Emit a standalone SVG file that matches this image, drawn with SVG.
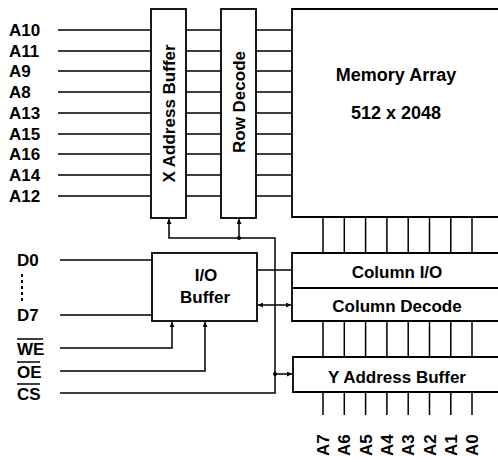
<svg xmlns="http://www.w3.org/2000/svg" width="498" height="462" viewBox="0 0 498 462">
<defs>
<style>
.ln{stroke:#000;stroke-width:1.5;fill:none}
.bx{stroke:#000;stroke-width:1.8;fill:#fff}
.t{font-family:"Liberation Sans",Arial,sans-serif;font-weight:bold;font-size:17px;fill:#000}
.c{text-anchor:middle}
</style>
<marker id="ah" viewBox="0 0 10 10" refX="10" refY="5" markerWidth="5" markerHeight="5" orient="auto-start-reverse" markerUnits="userSpaceOnUse">
<path d="M0,0 L10,5 L0,10 Z" fill="#000"/>
</marker>
</defs>
<rect width="498" height="462" fill="#fff"/>

<g id="connectors">
<g class="ln">
<path d="M58,30H151M58,51H151M58,71H151M58,92H151M58,113H151M58,134H151M58,154H151M58,175H151M58,196H151"/>
<path d="M186,30H221M186,51H221M186,71H221M186,92H221M186,113H221M186,134H221M186,154H221M186,175H221M186,196H221"/>
<path d="M256,30H292M256,51H292M256,71H292M256,92H292M256,113H292M256,134H292M256,154H292M256,175H292M256,196H292"/>
<path d="M323,217V253M344.3,217V253M365.6,217V253M386.9,217V253M408.2,217V253M429.5,217V253M450.8,217V253M472,217V253"/>
<path d="M323,321V357M344.3,321V357M365.6,321V357M386.9,321V357M408.2,321V357M429.5,321V357M450.8,321V357M472,321V357"/>
<path d="M323,392V415M344.3,392V415M365.6,392V415M386.9,392V415M408.2,392V415M429.5,392V415M450.8,392V415M472,392V415"/>
<path d="M60,260H152M60,315H152"/>
<path d="M22,274V304" stroke-width="2" stroke-dasharray="3,3"/>
<path d="M60,348H172V322" marker-end="url(#ah)"/>
<path d="M60,371H205V322" marker-end="url(#ah)"/>
<path d="M60,393H275V238H169V219" marker-end="url(#ah)"/>
<path d="M239,238V219" marker-end="url(#ah)"/>
<path d="M275,374H292" marker-end="url(#ah)"/>
<path d="M257,270H292"/>
<path d="M258,305H291" marker-start="url(#ah)" marker-end="url(#ah)"/>
</g>
<circle cx="239" cy="238" r="2" fill="#000"/>
<circle cx="275" cy="374" r="2" fill="#000"/>
</g>

<g id="labels" class="t">
<text x="9" y="36">A10</text>
<text x="9" y="57">A11</text>
<text x="9" y="77">A9</text>
<text x="9" y="98">A8</text>
<text x="9" y="119">A13</text>
<text x="9" y="140">A15</text>
<text x="9" y="160">A16</text>
<text x="9" y="181">A14</text>
<text x="9" y="202">A12</text>
<text x="17" y="266">D0</text>
<text x="17" y="321">D7</text>
<text x="17" y="355">WE</text>
<text x="17" y="378">OE</text>
<text x="17" y="400">CS</text>
<path d="M17,339H43M17,362H40M17,384H40" stroke="#000" stroke-width="1.5"/>
<text transform="translate(329,456) rotate(-90)">A7</text>
<text transform="translate(350.3,456) rotate(-90)">A6</text>
<text transform="translate(371.6,456) rotate(-90)">A5</text>
<text transform="translate(392.9,456) rotate(-90)">A4</text>
<text transform="translate(414.2,456) rotate(-90)">A3</text>
<text transform="translate(435.5,456) rotate(-90)">A2</text>
<text transform="translate(456.8,456) rotate(-90)">A1</text>
<text transform="translate(478,456) rotate(-90)">A0</text>
</g>

<g id="x-address-buffer">
<rect class="bx" x="151" y="9" width="35" height="209"/>
<text class="t c" transform="translate(175,113.5) rotate(-90)">X Address Buffer</text>
</g>

<g id="row-decode">
<rect class="bx" x="221" y="9" width="35" height="209"/>
<text class="t c" transform="translate(245,102) rotate(-90)">Row Decode</text>
</g>

<g id="memory-array">
<path class="bx" d="M499,9H292V217H499"/>
<text class="t c" x="396" y="81" style="font-size:18px">Memory Array</text>
<text class="t c" x="396" y="119" style="font-size:18px">512 x 2048</text>
</g>

<g id="io-buffer">
<rect class="bx" x="152" y="253" width="105" height="68"/>
<text class="t c" x="206" y="281">I/O</text>
<text class="t c" x="205" y="303">Buffer</text>
</g>

<g id="column-io">
<path class="bx" d="M499,253H292V288H499"/>
<text class="t c" x="397" y="278">Column I/O</text>
</g>

<g id="column-decode">
<path class="bx" d="M499,288H292V321H499"/>
<text class="t c" x="397" y="312">Column Decode</text>
</g>

<g id="y-address-buffer">
<path class="bx" d="M499,357H293V392H499"/>
<text class="t c" x="397" y="383">Y Address Buffer</text>
</g>
</svg>
